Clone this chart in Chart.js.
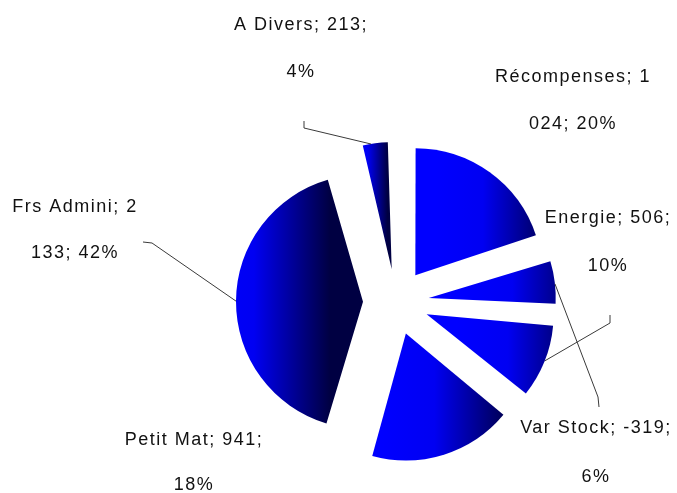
<!DOCTYPE html>
<html>
<head>
<meta charset="utf-8">
<script src="https://cdn.jsdelivr.net/npm/chart.js@4.4.1/dist/chart.umd.min.js"></script>
<style>
  html, body { margin: 0; padding: 0; background: #fff; }
  #wrap { width: 677px; height: 493px; position: relative; }
</style>
</head>
<body>
<div id="wrap"><canvas id="pie"></canvas></div>
<script>
/* ── DATA (clockwise from 12 o'clock) ── */
const labels = ['Récompenses', 'Var Stock', 'Energie', 'Petit Mat', 'Frs Admini', 'A Divers'];
const values = [1024, -319, 506, 941, 2133, 213];

/* ── LAYOUT (label placement, leader lines) ── */
const wrapWords = [2, 3, 2, 3, 3, 3];                 // tokens on first label line
const labelPos  = [[573, 77, 124], [596, 428, 477], [608, 218, 266],
                   [194, 440, 485], [75, 207, 253], [301, 25, 72]];
const leaders = [
  null,
  { frac: 0.53, pts: [[598, 397], [599, 407]] },
  { frac: 0.49, pts: [[610, 323], [610, 315]] },
  null,
  { frac: 0.50, pts: [[152, 243], [143, 242]] },
  { frac: 0.37, pts: [[304, 128], [304, 121]] },
];

const RADIUS = 127;
const EXPLODE = 33;                     // px the slices are pulled out

const total = values.reduce((s, v) => s + Math.abs(v), 0);
const fmtNum = v => String(v).replace(/\B(?=(\d{3})+(?!\d))/g, ' ');

/* per-slice horizontal gradient, bright blue left -> navy right */
function sliceGradient(chart, i) {
  const a = chart.chartArea;
  if (!a) return '#0000ff';
  const cx = (a.left + a.right) / 2;
  let cum = 0;
  for (let k = 0; k < i; k++) cum += Math.abs(values[k]);
  const s = -Math.PI / 2 + cum / total * Math.PI * 2;
  const e = s + Math.abs(values[i]) / total * Math.PI * 2;
  const mid = (s + e) / 2;
  const ax = cx + Math.cos(mid) * EXPLODE;
  let mn = ax, mx = ax;
  for (let t = 0; t <= 40; t++) {
    const x = ax + RADIUS * Math.cos(s + (e - s) * t / 40);
    mn = Math.min(mn, x); mx = Math.max(mx, x);
  }
  const g = chart.ctx.createLinearGradient(mn, 0, mx, 0);
  g.addColorStop(0, '#0000ff');
  g.addColorStop(0.4, '#0000f2');
  g.addColorStop(1, '#000042');
  return g;
}

/* keep every exploded slice at the same radius */
const evenRadius = {
  id: 'evenRadius',
  beforeDatasetsDraw(chart) {
    const meta = chart.getDatasetMeta(0);
    meta.data.forEach(arc => {
      const off = (arc.options.offset || 0) / 4;
      const circ = arc.endAngle - arc.startAngle;
      const fix = 1 - Math.sin(Math.min(Math.PI, circ));
      arc.outerRadius = meta.controller.outerRadius - off * fix;
    });
  }
};

/* data labels with leader lines */
const pieLabels = {
  id: 'pieLabels',
  afterDatasetsDraw(chart) {
    const ctx = chart.ctx;
    const meta = chart.getDatasetMeta(0);
    const R = meta.controller.outerRadius;
    ctx.save();
    ctx.strokeStyle = '#3a3a3a';
    ctx.lineWidth = 1;
    meta.data.forEach((arc, i) => {
      const ld = leaders[i];
      if (!ld) return;
      const mid = (arc.startAngle + arc.endAngle) / 2;
      const off = (arc.options.offset || 0) / 4;
      const ax = arc.x + Math.cos(mid) * off, ay = arc.y + Math.sin(mid) * off;
      const th = arc.startAngle + (arc.endAngle - arc.startAngle) * ld.frac;
      ctx.beginPath();
      ctx.moveTo(ax + R * Math.cos(th), ay + R * Math.sin(th));
      ld.pts.forEach(p => ctx.lineTo(p[0], p[1]));
      ctx.stroke();
    });

    ctx.fillStyle = '#111';
    ctx.font = "18px 'Liberation Sans', Arial, sans-serif";
    ctx.letterSpacing = '1.5px';
    ctx.textAlign = 'center';
    ctx.textBaseline = 'middle';
    labels.forEach((name, i) => {
      const pct = Math.round(Math.abs(values[i]) / total * 100);
      const words = `${name}; ${fmtNum(values[i])}; ${pct}%`.split(' ');
      const l1 = words.slice(0, wrapWords[i]).join(' ');
      const l2 = words.slice(wrapWords[i]).join(' ');
      const [x, y1, y2] = labelPos[i];
      ctx.fillText(l1, x, y1);
      ctx.fillText(l2, x, y2);
    });
    ctx.restore();
  }
};

new Chart(document.getElementById('pie').getContext('2d'), {
  type: 'pie',
  data: {
    labels: labels,
    datasets: [{
      data: values,
      backgroundColor: ctx => sliceGradient(ctx.chart, ctx.dataIndex),
      borderWidth: 0,
      offset: values.map(() => EXPLODE * 4),
    }],
  },
  options: {
    responsive: true,
    maintainAspectRatio: false,
    animation: false,
    radius: RADIUS,
    layout: { padding: { left: 115, right: 0, top: 111, bottom: 0 } },
    plugins: { legend: { display: false }, tooltip: { enabled: false } },
    events: [],
  },
  plugins: [evenRadius, pieLabels],
});
</script>
</body>
</html>
